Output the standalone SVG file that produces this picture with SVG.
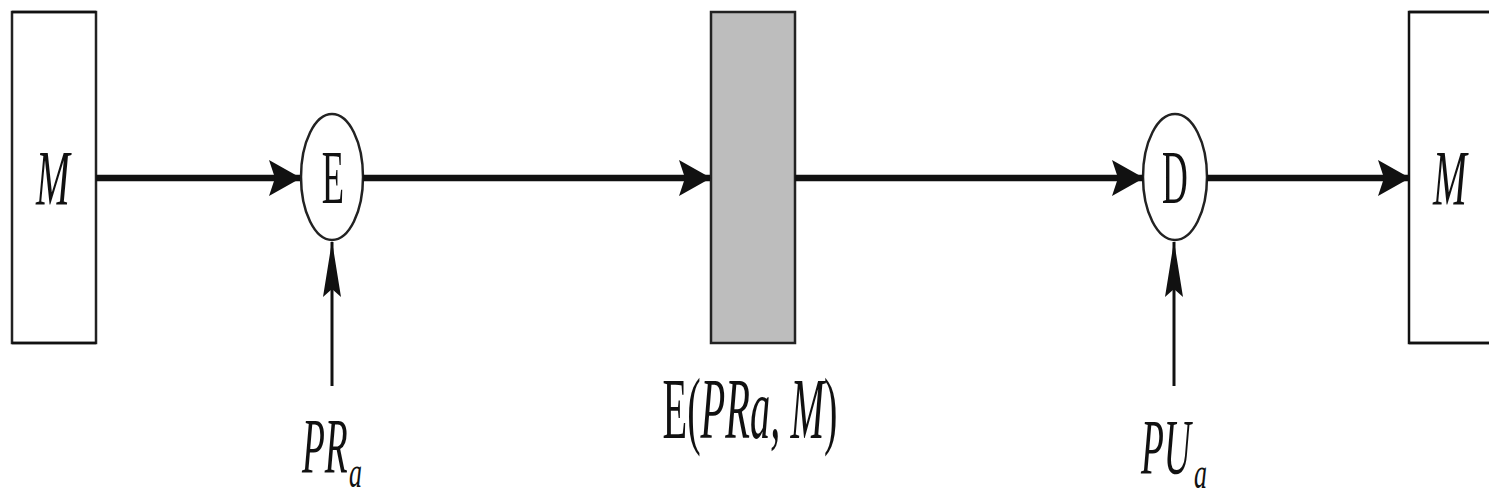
<svg xmlns="http://www.w3.org/2000/svg" width="1489" height="497" viewBox="0 0 1489 497">
<style>
.box{fill:#fff;stroke:#222;stroke-width:2.5}
.gray{fill:#bdbdbd;stroke:#222;stroke-width:2.5}
.edge{stroke:#111;stroke-width:2.5;fill:none}
.ell{fill:#fff;stroke:#222;stroke-width:2.5}
.main{stroke:#111;stroke-width:6.5;fill:none}
.thin{stroke:#111;stroke-width:3;fill:none}
text{font-family:"Liberation Serif","DejaVu Serif",serif;fill:#111}
.it{font-style:italic}
</style>
<defs>
<marker id="ah" markerUnits="userSpaceOnUse" markerWidth="32" markerHeight="36" refX="31" refY="18" orient="auto">
<path d="M0,0 L32,18 L0,36 L6,18 Z" fill="#111"/>
</marker>
<marker id="av" markerUnits="userSpaceOnUse" markerWidth="56" markerHeight="22" refX="55" refY="11" orient="auto">
<path d="M0,2 L56,11 L0,20 L8,11 Z" fill="#111"/>
</marker>
</defs>
<g id="M-left">
<rect class="box" x="12" y="12" width="84" height="331"/>
<line class="edge" x1="12" y1="12" x2="96" y2="12" stroke-width="4"/>
<line class="edge" x1="12" y1="343" x2="96" y2="343" stroke-width="4"/>
<text class="it" transform="translate(53,204) scale(0.52,1)" font-size="78" text-anchor="middle">M</text>
</g>
<g id="E-node">
<ellipse class="ell" cx="332" cy="177" rx="31" ry="63"/>
<text transform="translate(333,203) scale(0.48,1)" font-size="76" text-anchor="middle">E</text>
</g>
<g id="cipher">
<rect class="gray" x="711" y="12" width="84" height="331"/>
<text transform="translate(750,438) scale(0.47,1)" font-size="86" text-anchor="middle">E(<tspan class="it">PRa, M</tspan>)</text>
</g>
<g id="D-node">
<ellipse class="ell" cx="1175" cy="177" rx="32" ry="63"/>
<text transform="translate(1175,203) scale(0.47,1)" font-size="76" text-anchor="middle">D</text>
</g>
<g id="M-right">
<path class="edge" d="M1495,12 L1409,12 L1409,343 L1495,343"/>
<line class="edge" x1="1409" y1="12" x2="1489" y2="12" stroke-width="4"/>
<line class="edge" x1="1409" y1="343" x2="1489" y2="343" stroke-width="4"/>
<text class="it" transform="translate(1450,204) scale(0.52,1)" font-size="78" text-anchor="middle">M</text>
</g>
<g id="PRa-label">
<text class="it" transform="translate(302,472) scale(0.48,1)" font-size="78">PR</text>
<text class="it" transform="translate(349,487) scale(0.59,1)" font-size="44">a</text>
</g>
<g id="PUa-label">
<text class="it" transform="translate(1141,473) scale(0.48,1)" font-size="78">PU</text>
<text class="it" transform="translate(1194,488) scale(0.59,1)" font-size="44">a</text>
</g>
<g id="connectors">
<line class="main" x1="96" y1="178" x2="300" y2="178" marker-end="url(#ah)"/>
<line class="main" x1="363" y1="178" x2="710" y2="178" marker-end="url(#ah)"/>
<line class="main" x1="795" y1="178" x2="1143" y2="178" marker-end="url(#ah)"/>
<line class="main" x1="1207" y1="178" x2="1409" y2="178" marker-end="url(#ah)"/>
<line class="thin" x1="332" y1="386" x2="332" y2="242" marker-end="url(#av)"/>
<line class="thin" x1="1174" y1="386" x2="1174" y2="242" marker-end="url(#av)"/>
</g>
</svg>
